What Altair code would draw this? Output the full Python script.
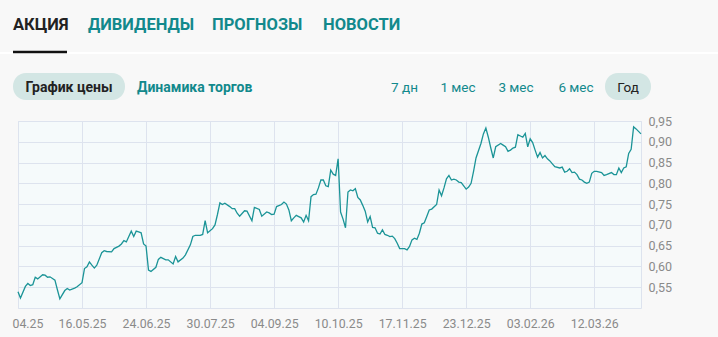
import altair as alt
import pandas as pd

# ---- data ----
day_index = [0, 1, 3, 4, 5, 6, 7, 8, 10, 11, 12, 13, 15, 16, 17, 19, 20, 21, 23, 24,
             26, 27, 28, 29, 30, 31, 32, 34, 35, 36, 38, 39, 41, 42, 43, 44, 45, 46, 47, 48,
             49, 50, 51, 52, 53, 54, 56, 57, 58, 60, 61, 63, 64, 65, 67, 68, 70, 71, 72, 74,
             75, 76, 77, 79, 80, 81, 82, 83, 84, 86, 87, 88, 89, 90, 92, 93, 95, 96, 98, 99,
             101, 102, 103, 104, 105, 107, 108, 109, 110, 111, 112, 113, 114, 115, 116, 117, 118, 119, 120, 121,
             122, 123, 124, 125, 126, 127, 128, 129, 130, 131, 132, 133, 134, 135, 136, 137, 138, 139, 140, 141,
             142, 143, 144, 145, 146, 147, 148, 149, 150, 151, 152, 153, 154, 155, 157, 158, 159, 160, 161, 162,
             163, 164, 165, 166, 167, 168, 170, 171, 172, 173, 174, 175, 176, 177, 178, 179, 180, 181, 182, 183,
             184, 185, 186, 188, 189, 190, 191, 192, 193, 194, 196, 197, 198, 199, 200, 201, 202, 203, 205, 206,
             207, 208, 209, 210, 211, 212, 213, 214, 215, 216, 217, 218, 220, 221, 222, 223, 224, 225, 226, 227,
             228, 229, 230, 231, 232, 233, 234, 235, 237, 238, 239, 241, 242, 243, 244, 245, 246, 247, 248, 249,
             250, 251, 253]
price = [0.539, 0.524, 0.552, 0.559, 0.554, 0.556, 0.574, 0.570, 0.580, 0.579, 0.574, 0.575, 0.567, 0.544, 0.522, 0.542, 0.547, 0.543, 0.548, 0.551,
         0.561, 0.595, 0.599, 0.611, 0.603, 0.596, 0.603, 0.633, 0.638, 0.636, 0.635, 0.643, 0.649, 0.654, 0.662, 0.659, 0.672, 0.685, 0.672, 0.685,
         0.683, 0.681, 0.654, 0.649, 0.591, 0.588, 0.598, 0.617, 0.622, 0.616, 0.616, 0.606, 0.624, 0.611, 0.620, 0.628, 0.652, 0.672, 0.675, 0.675,
         0.677, 0.710, 0.681, 0.691, 0.700, 0.725, 0.753, 0.749, 0.752, 0.744, 0.739, 0.739, 0.728, 0.721, 0.734, 0.733, 0.710, 0.742, 0.737, 0.721,
         0.731, 0.729, 0.725, 0.726, 0.744, 0.749, 0.755, 0.750, 0.736, 0.710, 0.717, 0.723, 0.720, 0.717, 0.707, 0.723, 0.710, 0.768, 0.773, 0.774,
         0.789, 0.808, 0.808, 0.794, 0.792, 0.832, 0.822, 0.819, 0.859, 0.731, 0.714, 0.693, 0.779, 0.784, 0.782, 0.787, 0.766, 0.760, 0.747, 0.733,
         0.707, 0.720, 0.694, 0.693, 0.680, 0.678, 0.688, 0.677, 0.675, 0.672, 0.673, 0.667, 0.656, 0.643, 0.643, 0.640, 0.648, 0.664, 0.668, 0.665,
         0.680, 0.702, 0.705, 0.720, 0.736, 0.738, 0.749, 0.784, 0.770, 0.789, 0.811, 0.819, 0.808, 0.810, 0.808, 0.803, 0.802, 0.794, 0.786, 0.791,
         0.800, 0.829, 0.861, 0.896, 0.919, 0.933, 0.911, 0.885, 0.861, 0.888, 0.896, 0.892, 0.888, 0.877, 0.880, 0.885, 0.887, 0.917, 0.911, 0.920,
         0.888, 0.907, 0.898, 0.880, 0.863, 0.874, 0.861, 0.867, 0.859, 0.854, 0.847, 0.840, 0.837, 0.839, 0.827, 0.829, 0.835, 0.826, 0.827, 0.821,
         0.810, 0.808, 0.803, 0.800, 0.803, 0.824, 0.829, 0.829, 0.826, 0.819, 0.821, 0.826, 0.821, 0.821, 0.837, 0.826, 0.837, 0.840, 0.872, 0.882,
         0.936, 0.931, 0.919]
tick_index = [0, 26, 52, 78, 104, 130, 156, 182, 208, 234]
tick_labels = ["04.25", "16.05.25", "24.06.25", "30.07.25", "04.09.25",
               "10.10.25", "17.11.25", "23.12.25", "03.02.26", "12.03.26"]
y_ticks = [0.55, 0.60, 0.65, 0.70, 0.75, 0.80, 0.85, 0.90, 0.95]
tabs = ["АКЦИЯ", "ДИВИДЕНДЫ", "ПРОГНОЗЫ", "НОВОСТИ"]
chart_modes = ["График цены", "Динамика торгов"]
periods = ["7 дн", "1 мес", "3 мес", "6 мес", "Год"]

df = pd.DataFrame({"i": day_index, "p": price})

TEAL = "#12898c"
DARK = "#222222"
GRID = "#dde3ee"
FONT = "Roboto"

label_js = "[" + ",".join("'%s'" % s for s in tick_labels) + "]"

line = alt.Chart(df).mark_line(color="#1b9497", strokeWidth=1.3).encode(
    x=alt.X("i:Q", scale=alt.Scale(domain=[0, 253], nice=False, zero=False),
            axis=alt.Axis(values=tick_index, title=None, domain=False, ticks=False,
                          labelFlush=False, labelOverlap=False, labelPadding=9,
                          labelExpr=label_js + "[round(datum.value/26)]",
                          labelAlign={"condition": {"test": "datum.value == 0", "value": "left"},
                                      "value": "center"},
                          labelOffset={"condition": {"test": "datum.value == 0", "value": -6},
                                       "value": 0},
                          grid=True, gridColor=GRID, labelColor="#8a8a8a",
                          labelFontSize=12.3, labelFont=FONT)),
    y=alt.Y("p:Q", scale=alt.Scale(domain=[0.5, 0.95], nice=False, zero=False),
            axis=alt.Axis(orient="right", values=y_ticks, title=None, domain=False,
                          ticks=False, labelPadding=7, labelFlush=False,
                          labelOverlap=False,
                          labelExpr="replace(format(datum.value, '.2f'), '.', ',')",
                          grid=True, gridColor=GRID, labelColor="#8a8a8a",
                          labelFontSize=12.5, labelFont=FONT)),
)

one = alt.Data(values=[{}])


def txt(s, x, y, color, size, weight="normal", align="left", baseline="alphabetic"):
    return alt.Chart(one).mark_text(
        text=s, color=color, fontSize=size, fontWeight=weight, align=align,
        baseline=baseline, font=FONT
    ).encode(x=alt.value(x), y=alt.value(y))


def pill(x1, x2, y1, y2):
    return alt.Chart(one).mark_rect(color="#d3e6e4", cornerRadius=13).encode(
        x=alt.value(x1), x2=alt.value(x2), y=alt.value(y1), y2=alt.value(y2))


def rule(x1, x2, y, color, w):
    return alt.Chart(one).mark_rule(color=color, strokeWidth=w).encode(
        x=alt.value(x1), x2=alt.value(x2), y=alt.value(y))


OX, OY = 18, 121  # plot origin in page pixels
layers = []
# separator and underline under tabs
layers.append(rule(-OX, 718 - OX, 53 - OY, "#ffffff", 2))
layers.append(rule(13 - OX, 67 - OX, 52 - OY, "#111111", 2.5))
# tabs
tab_x = [13, 88, 212, 323]
for k, t in enumerate(tabs):
    layers.append(txt(t, tab_x[k] - OX, 30 - OY, DARK if k == 0 else TEAL, 16.5, "bold"))
# mode pills
layers.append(pill(13 - OX, 125 - OX, 73 - OY, 100 - OY))
layers.append(pill(605 - OX, 651 - OX, 73 - OY, 100 - OY))
layers.append(txt(chart_modes[0], 69 - OX, 92 - OY, DARK, 14, "bold", "center"))
layers.append(txt(chart_modes[1], 137 - OX, 92 - OY, TEAL, 14, "bold"))
per_x = [404.5, 458, 516, 576, 628]
for k, p in enumerate(periods):
    layers.append(txt(p, per_x[k] - OX, 91.5 - OY, DARK if k == 4 else TEAL, 13.5, "normal", "center"))

chart = alt.layer(line, *layers).properties(
    width=623, height=187,
    autosize=alt.AutoSizeParams(type="none"),
    padding={"left": OX, "top": OY, "right": 718 - OX - 623, "bottom": 337 - OY - 187},
    background="#f8f8f8",
).configure_view(fill="#f5fafb", stroke=GRID, strokeWidth=1)

chart.save("out.html", embed_options={"renderer": "svg", "actions": False})
